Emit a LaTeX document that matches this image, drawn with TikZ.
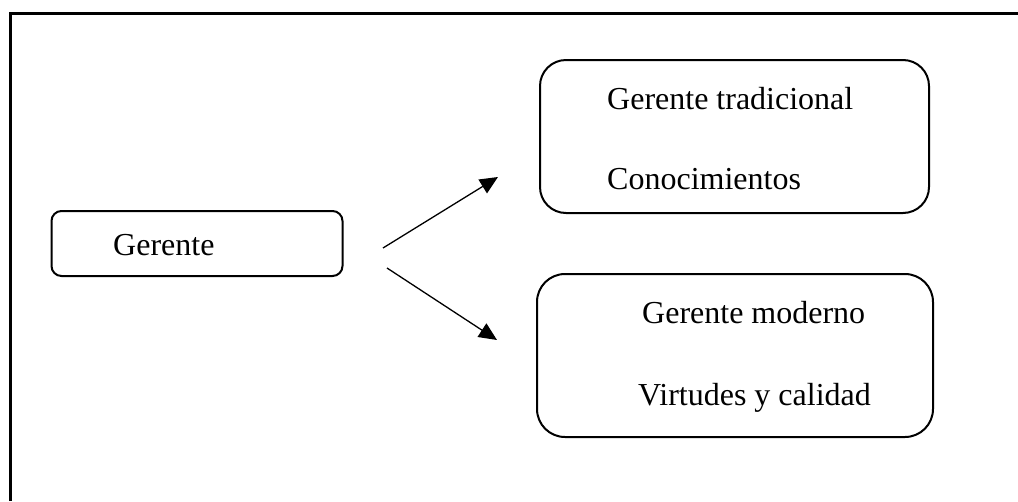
\documentclass[tikz,border=0pt]{standalone}
\usepackage{fontspec}
\setmainfont{Liberation Serif}
\usetikzlibrary{arrows.meta}
\begin{document}
\begin{tikzpicture}[x=1pt,y=-1pt,
  box/.style={draw=black, line width=2pt, inner sep=0pt},
  label/.style={anchor=base west, inner sep=0pt, font=\fontsize{32}{38}\selectfont},
  link/.style={line width=1.3pt, -{Triangle[length=18pt,width=16pt]}}]
  \useasboundingbox (0,0) rectangle (1018,501);
  % open frame: top and left edges only
  \draw[line width=3pt] (10,501) -- (10,13.5) -- (1018,13.5);

  % boxes
  \node[box, rounded corners=10pt, minimum width=291pt, minimum height=65pt] (g) at (197,243.5) {};
  \node[box, rounded corners=26pt, minimum width=389pt, minimum height=153pt] (t) at (734.5,136.5) {};
  \node[box, rounded corners=28pt, minimum width=396pt, minimum height=163pt] (m) at (735,355.5) {};

  % texts
  \node[label] (gtxt) at (113,255) {Gerente};
  \node[label] (ttxt1) at (607,109) {Gerente tradicional};
  \node[label] (ttxt2) at (607,189) {Conocimientos};
  \node[label] (mtxt1) at (642,323) {Gerente moderno};
  \node[label] (mtxt2) at (638,405) {Virtudes y calidad};

  % arrows
  \coordinate (up0) at (383,248);
  \coordinate (up1) at (498,177);
  \coordinate (dn0) at (387,268);
  \coordinate (dn1) at (497,340);
  \draw[link] (up0) -- (up1);
  \draw[link] (dn0) -- (dn1);
\end{tikzpicture}
\end{document}
